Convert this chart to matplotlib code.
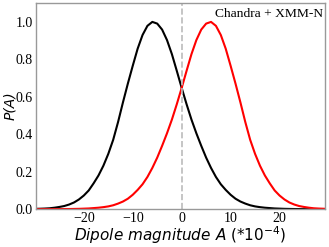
import matplotlib
matplotlib.use("Agg")
import matplotlib.pyplot as plt
import numpy as np

# --- DATA ---
dipole_A = list(range(-30, 31))  # dipole magnitude, units of 1e-4

# Chandra + XMM-Newton, negative-peaked posterior
p_black = [0.002, 0.0025, 0.0035, 0.005, 0.008, 0.012, 0.017, 0.025, 0.036, 0.052,
           0.073, 0.100, 0.138, 0.180, 0.232, 0.295, 0.370, 0.465, 0.570, 0.670,
           0.765, 0.856, 0.929, 0.978, 0.999, 0.990, 0.958, 0.902, 0.827, 0.738,
           0.647, 0.560, 0.478, 0.405, 0.338, 0.275, 0.220, 0.172, 0.133, 0.103,
           0.077, 0.056, 0.041, 0.030, 0.021, 0.015, 0.011, 0.008, 0.006, 0.004,
           0.003, 0.002, 0.0015, 0.001, 0.0008, 0.0006, 0.0005, 0.0004, 0.0003, 0.0002,
           0.0002]

# positive-peaked posterior
p_red = [0.0002, 0.0002, 0.0003, 0.0004, 0.0005, 0.0006, 0.0008, 0.001, 0.0015, 0.002,
         0.003, 0.004, 0.006, 0.008, 0.011, 0.015, 0.021, 0.030, 0.041, 0.056,
         0.077, 0.103, 0.133, 0.172, 0.220, 0.275, 0.338, 0.405, 0.478, 0.560,
         0.647, 0.738, 0.827, 0.902, 0.958, 0.990, 0.999, 0.978, 0.929, 0.856,
         0.765, 0.670, 0.570, 0.465, 0.370, 0.295, 0.232, 0.180, 0.138, 0.100,
         0.073, 0.052, 0.036, 0.025, 0.017, 0.012, 0.008, 0.005, 0.0035, 0.0025,
         0.002]

y_ticks = [0.0, 0.2, 0.4, 0.6, 0.8, 1.0]
x_ticks = [-20, -10, 0, 10, 20]
label_text = "Chandra + XMM-N"

# --- STYLE ---
plt.rcParams['mathtext.fontset'] = 'dejavusans'

fig = plt.figure(figsize=(3.29, 2.47), dpi=100)
ax = fig.add_axes([0.109, 0.153, 0.879, 0.835])

ax.plot(dipole_A, p_black, color='black', lw=1.5)
ax.plot(dipole_A, p_red, color='red', lw=1.5)
ax.axvline(0, color='#bbbbbb', ls='--', lw=1.2)

ax.set_xlim(-29.8, 29.3)
ax.set_ylim(0, 1.1)
ax.set_xticks(x_ticks)
ax.set_yticks(y_ticks)
ax.set_yticklabels([f"{v:.1f}" for v in y_ticks])
ax.set_xticklabels([f"{v}".replace('-', '\u2212') for v in x_ticks])

for lab in ax.get_xticklabels() + ax.get_yticklabels():
    lab.set_family('Liberation Serif')
    lab.set_fontsize(10)
ax.tick_params(axis='both', length=0, pad=2)

for sp in ax.spines.values():
    sp.set_color('#999999')
    sp.set_linewidth(1.0)

ax.set_ylabel('P(A)', fontsize=10, fontstyle='italic')
ax.yaxis.set_label_coords(-0.066, 0.5)
ax.set_xlabel(r'$\it{Dipole\ magnitude\ A}$ (*10$^{-4}$)', fontsize=11)
ax.xaxis.set_label_coords(0.5, -0.075)

ax.text(0.62, 0.945, label_text, transform=ax.transAxes, family='Liberation Serif',
        fontsize=9.7, ha='left', va='center')

plt.savefig("out.png", dpi=100)
